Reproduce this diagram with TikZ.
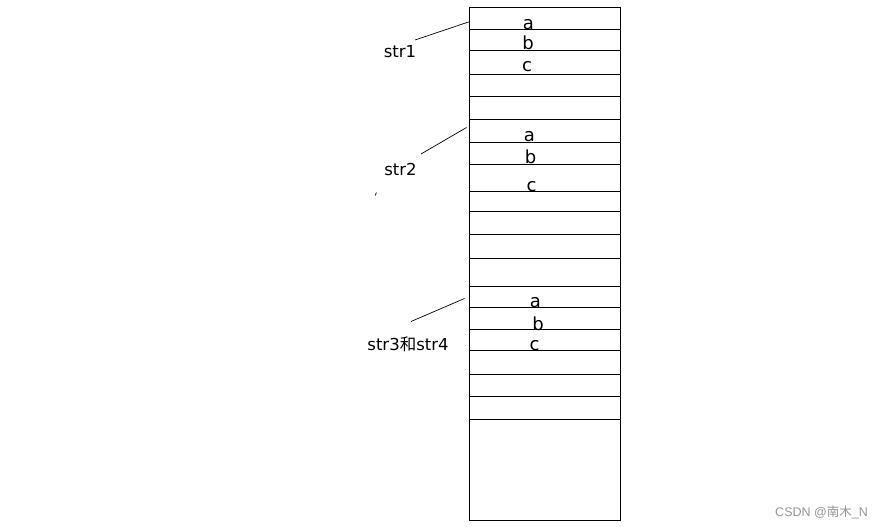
\documentclass[tikz,border=0pt]{standalone}
\usepackage{fontspec}
\setmainfont{DejaVu Sans}
\newfontfamily\cjkfont{Noto Sans CJK SC}
\newfontfamily\wmfont{Liberation Sans}
\begin{document}
\begin{tikzpicture}[x=1pt,y=-1pt,
  cell/.style={line width=0.9pt},
  letter/.style={anchor=base,inner sep=0pt,font=\fontsize{18}{18}\selectfont},
  lbl/.style={anchor=base,inner sep=0pt,font=\fontsize{16.5}{16.5}\selectfont},
  ptr/.style={line width=0.7pt}]
\useasboundingbox[fill=white] (0,0) rectangle (884,527);
% memory column
\draw[cell] (469.5,7.5) rectangle (620.5,520);
\foreach \yy in {29.5,50.5,74.5,96.5,119.5,142.5,164.5,191.5,211.5,234.5,258.5,286.5,307.5,329.5,350.5,374.5,396.5,419.5}
  \draw[cell] (469.5,\yy) -- (620.5,\yy);
% letters
\node[letter] (a1) at (528.5,29.5) {a};
\node[letter] (b1) at (528,50) {b};
\node[letter] (c1) at (527,71.5) {c};
\node[letter] (a2) at (529.5,141) {a};
\node[letter] (b2) at (530.5,163) {b};
\node[letter] (c2) at (531.5,191.5) {c};
\node[letter] (a3) at (535.5,307) {a};
\node[letter] (b3) at (538,330.5) {b};
\node[letter] (c3) at (534.5,350.5) {c};
% labels
\node[lbl] (s1) at (400,57.5) {str1};
\node[lbl] (s2) at (400.5,175) {str2};
\node[lbl] (s3) at (408,350) {str3{\cjkfont 和}str4};
% pointer lines
\coordinate (p1a) at (415,40);
\coordinate (p1b) at (470,21.5);
\coordinate (p2a) at (421,154);
\coordinate (p2b) at (466.5,127.5);
\coordinate (p3a) at (411,321.5);
\coordinate (p3b) at (464.5,298.5);
\draw[ptr] (p1a) -- (p1b);
\draw[ptr] (p2a) -- (p2b);
\draw[ptr] (p3a) -- (p3b);
\coordinate (m1) at (376.3,192.5);
\coordinate (m2) at (375.3,195.5);
\draw[line width=0.7pt] (m1) -- (m2);
% watermark
\node[anchor=base east,inner sep=0pt,text=black!42,font=\fontsize{12.5}{12.5}\selectfont] (wm) at (868,516) {{\wmfont CSDN @}{\cjkfont 南木}{\wmfont \_N}};
\end{tikzpicture}
\end{document}
